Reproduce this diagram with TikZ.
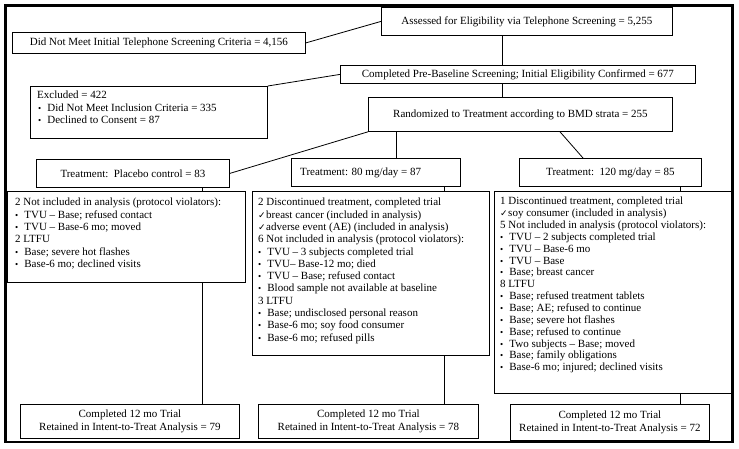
\documentclass[tikz,border=0pt]{standalone}
\usepackage{fontspec}
\setmainfont{Liberation Serif}
\newfontfamily\symfont{DejaVu Sans}
\newcommand{\mybul}{{\fontsize{9}{9}\selectfont\textbullet}\hspace{0.55em}}
\newcommand{\mychk}{{\symfont\fontsize{9}{9}\selectfont ✓}\hspace{0.5pt}}
\begin{document}
\begin{tikzpicture}[x=1pt,y=-1pt,
  box/.style={draw, line width=0.8pt, inner sep=0pt},
  txt/.style={inner sep=0pt, align=left, anchor=north west},
  conn/.style={line width=0.8pt},
  font=\fontsize{11}{12.3}\selectfont]
\useasboundingbox (0,0) rectangle (739,448);
\draw[line width=2.4pt] (5.5,5.5) rectangle (732.5,442);
% boxes: defined by corners
\newcommand{\bx}[6]{\node[box, anchor=north west, minimum width=#4-#2, minimum height=#5-#3, #6] (#1) at (#2,#3) {};}
\bx{assess}{381}{7}{672}{35}{}
\bx{notmeet}{12}{32}{305}{53}{}
\bx{prebase}{340}{65}{695}{83}{}
\bx{excl}{30}{86}{267}{138}{}
\bx{rand}{368}{97}{672}{131}{}
\bx{placebo}{36}{159}{229}{187}{}
\bx{tA}{291}{158}{460}{186}{}
\bx{tB}{519}{158}{701}{186}{}
\bx{pd}{7}{191}{245}{282}{}
\bx{dA}{252}{191}{489}{355}{}
\bx{dB}{494}{191}{731}{393}{}
\bx{cP}{20}{404}{239}{438}{}
\bx{cA}{258}{404}{478}{438}{}
\bx{cB}{510}{404}{709}{440}{}
% texts
\node[inner sep=0pt] at (assess.center) {Assessed for Eligibility via Telephone Screening = 5,255};
\node[inner sep=0pt] at (notmeet.center) {Did Not Meet Initial Telephone Screening Criteria = 4,156};
\node[inner sep=0pt] at (prebase.center) {Completed Pre-Baseline Screening; Initial Eligibility Confirmed = 677};
\node[inner sep=0pt] at (rand.center) {Randomized to Treatment according to BMD strata = 255};
\node[inner sep=0pt] at (placebo.center) {Treatment:\ \ Placebo control = 83};
\node[inner sep=0pt, anchor=west] at ([xshift=9pt]tA.west) {Treatment: 80 mg/day = 87};
\node[inner sep=0pt] at (tB.center) {Treatment:\ \ 120 mg/day = 85};
\node[txt] at ([shift={(7pt,-5pt)}]excl.north west) {Excluded = 422\\\hspace{1pt}\mybul Did Not Meet Inclusion Criteria = 335\\\hspace{1pt}\mybul Declined to Consent = 87};
\node[txt] at ([shift={(8pt,-7pt)}]pd.north west) {2 Not included in analysis (protocol violators):\\
\mybul TVU -- Base; refused contact\\
\mybul TVU -- Base-6 mo; moved\\
2 LTFU\\
\mybul Base; severe hot flashes\\
\mybul Base-6 mo; declined visits};
\node[txt] at ([shift={(6pt,-7pt)}]dA.north west) {2 Discontinued treatment, completed trial\\
\mychk breast cancer (included in analysis)\\
\mychk adverse event (AE) (included in analysis)\\
6 Not included in analysis (protocol violators):\\
\mybul TVU -- 3 subjects completed trial\\
\mybul TVU-- Base-12 mo; died\\
\mybul TVU -- Base; refused contact\\
\mybul Blood sample not available at baseline\\
3 LTFU\\
\mybul Base; undisclosed personal reason\\
\mybul Base-6 mo; soy food consumer\\
\mybul Base-6 mo; refused pills};
\node[txt, font=\fontsize{11}{11.85}\selectfont] at ([shift={(6pt,-6pt)}]dB.north west) {1 Discontinued treatment, completed trial\\
\mychk soy consumer (included in analysis)\\
5 Not included in analysis (protocol violators):\\
\mybul TVU -- 2 subjects completed trial\\
\mybul TVU -- Base-6 mo\\
\mybul TVU -- Base\\
\mybul Base; breast cancer\\
8 LTFU\\
\mybul Base; refused treatment tablets\\
\mybul Base; AE; refused to continue\\
\mybul Base; severe hot flashes\\
\mybul Base; refused to continue\\
\mybul Two subjects -- Base; moved\\
\mybul Base; family obligations\\
\mybul Base-6 mo; injured; declined visits};
\node[inner sep=0pt, align=center] at (cP.center) {Completed 12 mo Trial\\Retained in Intent-to-Treat Analysis = 79};
\node[inner sep=0pt, align=center] at (cA.center) {Completed 12 mo Trial\\Retained in Intent-to-Treat Analysis = 78};
\node[inner sep=0pt, align=center] at (cB.center) {Completed 12 mo Trial\\Retained in Intent-to-Treat Analysis = 72};
% connectors
\coordinate (v1) at (502,0);
\coordinate (v2) at (396,0);
\coordinate (v3) at (560,0);
\coordinate (v4) at (583,0);
\coordinate (v5) at (202,0);
\coordinate (v6) at (444,0);
\coordinate (v7) at (680,0);
\draw[conn] (notmeet.east) -- (assess.west);
\draw[conn] (assess.south -| v1) -- (prebase.north -| v1);
\draw[conn] (excl.north east) -- (prebase.west);
\draw[conn] (prebase.south -| v1) -- (rand.north -| v1);
\draw[conn] (placebo.east) -- (rand.south west);
\draw[conn] (rand.south -| v2) -- (tA.north -| v2);
\draw[conn] (rand.south -| v3) -- (tB.north -| v4);
\draw[conn] (placebo.south -| v5) -- (pd.north -| v5);
\draw[conn] (tA.south -| v6) -- (dA.north -| v6);
\draw[conn] (tB.south -| v7) -- (dB.north -| v7);
\draw[conn] (pd.south -| v5) -- (cP.north -| v5);
\draw[conn] (dA.south -| v6) -- (cA.north -| v6);
\draw[conn] (dB.south -| v7) -- (cB.north -| v7);
\end{tikzpicture}
\end{document}
